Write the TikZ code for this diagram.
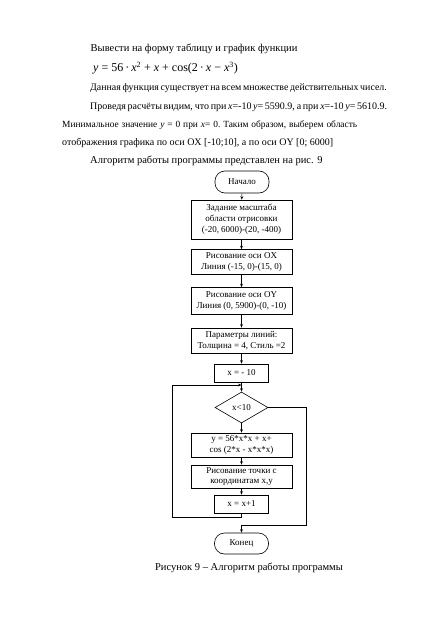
\documentclass[tikz,border=0pt]{standalone}
\usepackage{fontspec}
\setmainfont{Liberation Serif}
\usetikzlibrary{shapes.geometric,arrows.meta}
\newcommand\jsp{\hspace{2.5pt plus 1fill}}
\begin{document}
\begin{tikzpicture}[x=1pt,y=-1pt,
  body/.style={anchor=base west,inner sep=0pt,font=\fontsize{10.5}{12}\selectfont},
  sbody/.style={body,font=\fontsize{10}{12}\selectfont},
  fc/.style={font=\fontsize{9}{10.8}\selectfont,line width=0.6pt},
  term/.style={fc,draw,rounded corners=10pt,minimum width=54pt,inner sep=1pt},
  proc/.style={fc,draw,minimum width=101pt,inner sep=1pt,align=center},
  sproc/.style={fc,draw,minimum width=54pt,minimum height=18pt,inner sep=1pt,align=center},
  dec/.style={fc,draw,diamond,aspect=1.7,minimum width=53pt,minimum height=31pt,inner sep=0pt},
  flow/.style={line width=0.6pt,-{Stealth[length=3.5pt,width=2.8pt]}},
  plain/.style={line width=0.6pt}]
\useasboundingbox (0,0) rectangle (446,631);
\fill[white] (0,0) rectangle (446,631);
% text
\node[body] (t1) at (90.5,52) {Вывести на форму таблицу и график функции};
\node[body,font=\fontsize{12}{13}\selectfont] (t2) at (93,72) {\textit{y} = 56\,·\,\textit{x}\textsuperscript{2} + \textit{x} + cos(2\,·\,\textit{x} − \textit{x}\textsuperscript{3})};
\node[sbody,font=\fontsize{9.9}{12}\selectfont] (t3) at (90,91) {\hbox to 267pt{Данная функция существует на всем множестве действительных чисел.}};
\node[sbody] (t4) at (90,110) {\hbox to 267pt{Проведя расчёты видим, что при \textit{x}=-10 \textit{y}= 5590.9, а при \textit{x}=-10 \textit{y}= 5610.9.}};
\node[sbody,font=\fontsize{9.4}{12}\selectfont] (t5) at (62,128) {\hbox to 295pt{Минимальное\jsp значение\jsp\textit{y}\jsp=\jsp0\jsp при\jsp\textit{x}=\jsp0.\jsp Таким\jsp образом,\jsp выберем\jsp область}};
\node[sbody] (t6) at (62,146) {отображения графика по оси OX [-10;10], а по оси OY [0; 6000]};
\node[body] (t7) at (90,164) {Алгоритм работы программы представлен на рис. 9};
% flowchart
\node[term,minimum height=22pt] (start) at (242,182) {Начало};
\node[proc,minimum height=39pt] (b1) at (241.5,219.5) {Задание масштаба\\области отрисовки\\(-20, 6000)-(20, -400)};
\node[proc,minimum height=25pt] (b2) at (241.5,262) {Рисование оси OX\\Линия (-15, 0)-(15, 0)};
\node[proc,minimum height=27pt] (b3) at (241.5,301) {Рисование оси OY\\Линия (0, 5900)-(0, -10)};
\node[proc,minimum height=25pt] (b4) at (241.5,340.5) {Параметры линий:\\Толщина = 4, Стиль =2};
\node[sproc] (init) at (241.5,373) {x = - 10};
\node[dec] (cond) at (241.5,407.5) {x<10};
\node[proc,minimum height=24pt] (calc) at (241.5,445) {y = 56*x*x + x+\\cos (2*x - x*x*x)};
\node[proc,minimum height=23pt] (pt) at (241.5,476.5) {Рисование точки с\\координатам x,y};
\node[sproc] (inc) at (241.5,504) {x = x+1};
\node[term,minimum height=21pt] (end) at (241.5,543.5) {Конец};
\node[anchor=base,inner sep=0pt,font=\fontsize{10.5}{12}\selectfont] (cap) at (249,570) {Рисунок 9 – Алгоритм работы программы};
\coordinate (j) at (241.5,385);
\coordinate (k) at (241.5,525);
\draw[flow] (start) -- (b1);
\draw[flow] (b1) -- (b2);
\draw[flow] (b2) -- (b3);
\draw[flow] (b3) -- (b4);
\draw[flow] (b4) -- (init);
\draw[plain] (init) -- (j);
\draw[flow] (j) -- (cond);
\draw[flow] (cond) -- (calc);
\draw[flow] (calc) -- (pt);
\draw[flow] (pt) -- (inc);
\draw[flow] (inc.south) -- ++(0,4) -| (172.5,385) -- (j);
\draw[plain] (cond.east) -- (306,407.5) |- (k);
\draw[flow] (k) -- (end);
\end{tikzpicture}
\end{document}
